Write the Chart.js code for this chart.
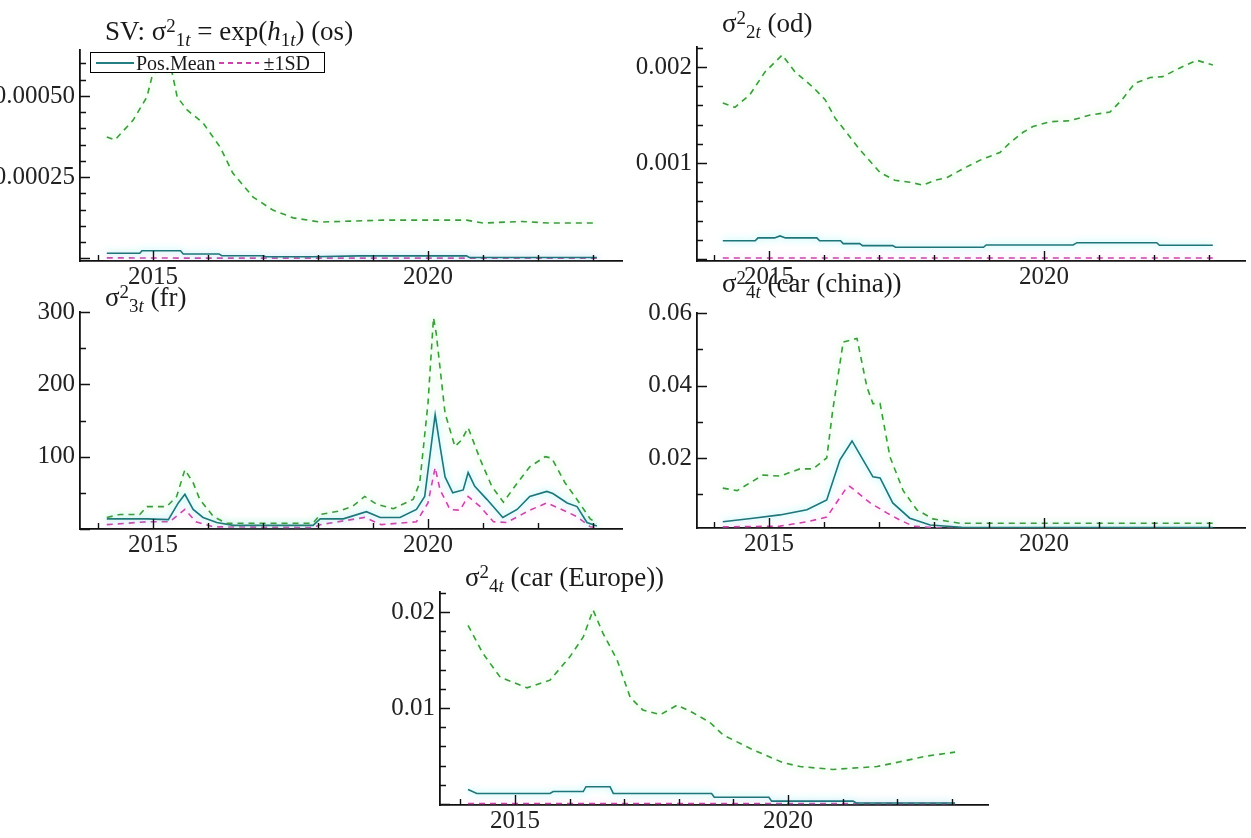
<!DOCTYPE html>
<html>
<head>
<meta charset="utf-8">
<script src="https://cdn.jsdelivr.net/npm/chart.js@4.4.1/dist/chart.umd.min.js"></script>
<style>
  html, body { margin: 0; padding: 0; background: #fff; overflow: hidden; }
  body { width: 1251px; height: 838px; position: relative; font-family: "Liberation Serif", "Times New Roman", serif; }
  canvas { position: absolute; }
  .ttl { position: absolute; font-size: 27px; line-height: 27px; white-space: nowrap; color: #1a1a1a; z-index: 2; }
  .ttl sup { font-size: 0.7em; vertical-align: 0.45em; line-height: 0; }
  .ttl sub { font-size: 0.7em; vertical-align: -0.3em; line-height: 0; }
  #legend { position: absolute; left: 90px; top: 52px; width: 235px; height: 21px; box-sizing: border-box;
            border: 1.6px solid #000; background: #fff; z-index: 3; font-size: 20px; line-height: 18px;
            display: flex; align-items: center; padding-left: 5px; color: #1a1a1a; }
  #legend svg { flex: none; }
</style>
</head>
<body>
<canvas id="c1"></canvas>
<canvas id="c2"></canvas>
<canvas id="c3"></canvas>
<canvas id="c4"></canvas>
<canvas id="c5"></canvas>

<div class="ttl" style="left:105px;top:18px">SV: σ<sup>2</sup><sub>1<i>t</i></sub> = exp(<i>h</i><sub>1<i>t</i></sub>) (os)</div>
<div class="ttl" style="left:722px;top:10px">σ<sup>2</sup><sub>2<i>t</i></sub> (od)</div>
<div class="ttl" style="left:105px;top:284px">σ<sup>2</sup><sub>3<i>t</i></sub> (fr)</div>
<div class="ttl" style="left:722px;top:270px">σ<sup>2</sup><sub>4<i>t</i></sub> (car (china))</div>
<div class="ttl" style="left:465px;top:564px">σ<sup>2</sup><sub>4<i>t</i></sub> (car (Europe))</div>

<div id="legend">
  <svg width="38" height="6"><line x1="0" y1="3" x2="38" y2="3" stroke="#237f82" stroke-width="2"/></svg>
  <span style="margin:0 4px 0 2px">Pos.Mean</span>
  <svg width="40" height="6"><line x1="0" y1="3" x2="40" y2="3" stroke="#cc44aa" stroke-width="2" stroke-dasharray="5,4"/></svg>
  <span style="margin-left:4px">±1SD</span>
</div>

<script>
// ---- data (x in years) ----
// os
const osUpperYears = [2014.16, 2014.31, 2014.64, 2014.89, 2014.98, 2015.15, 2015.35, 2015.44, 2015.62, 2015.91, 2016.22, 2016.45, 2016.82, 2017.18, 2017.55, 2018.04, 2018.58, 2019.18, 2019.8, 2020.7, 2021.0, 2021.7, 2022.2, 2023.07];
const osUpper = [0.000374, 0.000365, 0.000426, 0.000497, 0.000558, 0.0006, 0.00057, 0.000497, 0.000457, 0.000417, 0.000343, 0.000263, 0.000189, 0.000149, 0.000125, 0.000112, 0.000115, 0.000118, 0.000118, 0.000118, 0.000109, 0.000114, 0.000109, 0.000109];
const osMeanYears = [2014.16, 2014.76, 2014.8, 2015.5, 2015.55, 2016.2, 2016.25, 2017.0, 2017.05, 2017.9, 2018.75, 2020.7, 2020.75, 2023.07];
const osMean = [0.000016, 0.000016, 0.000024, 0.000024, 0.000014, 0.000014, 0.0000086, 0.0000086, 0.0000055, 0.0000055, 0.000008, 0.000008, 0.000003, 0.000003];
const osLowerYears = [2014.16, 2016.0, 2018.0, 2020.0, 2023.07];
const osLower = [0.000002, 0.000001, 0.000001, 0.000001, 0.000001];

// od
const odUpperYears = [2014.16, 2014.38, 2014.65, 2014.93, 2015.24, 2015.47, 2015.8, 2016.02, 2016.2, 2016.42, 2016.65, 2017.02, 2017.29, 2017.56, 2017.8, 2018.02, 2018.24, 2018.56, 2018.84, 2019.2, 2019.38, 2019.62, 2019.8, 2020.11, 2020.47, 2020.84, 2021.2, 2021.42, 2021.65, 2021.93, 2022.16, 2022.47, 2022.78, 2023.07];
const odUpper = [0.001625, 0.00158, 0.00171, 0.00195, 0.002125, 0.00195, 0.00179, 0.00166, 0.00147, 0.00131, 0.00114, 0.0009, 0.00082, 0.0008, 0.00077, 0.00082, 0.00085, 0.00095, 0.00103, 0.00111, 0.00121, 0.00132, 0.00138, 0.00143, 0.00144, 0.0015, 0.00153, 0.00166, 0.00183, 0.00189, 0.0019, 0.00199, 0.00207, 0.00202];
const odMeanYears = [2014.16, 2014.75, 2014.8, 2015.1, 2015.2, 2015.3, 2015.87, 2015.92, 2016.3, 2016.35, 2016.65, 2016.7, 2017.25, 2017.3, 2018.9, 2018.95, 2020.53, 2020.6, 2022.05, 2022.1, 2023.07];
const odMean = [0.00019, 0.00019, 0.00022, 0.00022, 0.00024, 0.00022, 0.00022, 0.00019, 0.00019, 0.00016, 0.00016, 0.000139, 0.000139, 0.000122, 0.000122, 0.000146, 0.000146, 0.00017, 0.00017, 0.000143, 0.000143];
const odLowerYears = [2014.16, 2016.0, 2018.0, 2020.0, 2022.0, 2023.07];
const odLower = [0.00001, 0.00001, 0.00001, 0.00001, 0.00001, 0.00001];

// fr
const frUpperYears = [2014.16, 2014.4, 2014.76, 2014.89, 2015.25, 2015.43, 2015.58, 2015.73, 2015.85, 2016.1, 2016.34, 2017.07, 2017.91, 2018.04, 2018.4, 2018.64, 2018.85, 2019.07, 2019.37, 2019.73, 2019.85, 2020.0, 2020.1, 2020.15, 2020.31, 2020.49, 2020.61, 2020.73, 2020.95, 2021.16, 2021.37, 2021.58, 2021.85, 2022.13, 2022.25, 2022.49, 2022.67, 2022.95, 2023.07];
const frUpper = [16, 20, 20, 31, 31, 45, 82, 64, 41, 17, 8, 8, 8, 20, 25, 32, 45, 34, 28, 41, 64, 174, 292, 270, 160, 114, 123, 140, 96, 59, 37, 59, 86, 100, 98, 64, 45, 14, 8];
const frMeanYears = [2014.16, 2014.89, 2015.28, 2015.46, 2015.58, 2015.73, 2015.91, 2016.16, 2016.46, 2017.91, 2018.04, 2018.46, 2018.88, 2019.13, 2019.49, 2019.79, 2019.94, 2020.13, 2020.22, 2020.31, 2020.45, 2020.64, 2020.73, 2020.85, 2021.07, 2021.36, 2021.62, 2021.85, 2022.16, 2022.27, 2022.53, 2022.71, 2022.89, 2023.07];
const frMean = [14, 14, 13, 36, 48, 27, 16, 9, 5, 5, 14, 14, 24, 16, 16, 27, 45, 158, 114, 72, 50, 54, 78, 59, 41, 16, 27, 45, 52, 49, 36, 31, 9, 4];
const frLowerYears = [2014.16, 2014.89, 2015.3, 2015.58, 2015.78, 2016.1, 2017.91, 2018.04, 2018.85, 2019.15, 2019.79, 2020.0, 2020.13, 2020.22, 2020.4, 2020.58, 2020.73, 2020.95, 2021.19, 2021.43, 2021.85, 2022.16, 2022.46, 2022.71, 2022.95, 2023.07];
const frLower = [6, 10, 10, 27, 10, 3, 2, 6, 16, 6, 10, 36, 85, 54, 27, 26, 45, 31, 10, 9, 26, 36, 26, 17, 3, 2];

// car (china)
const cnUpperYears = [2014.16, 2014.42, 2014.89, 2015.2, 2015.56, 2015.8, 2016.05, 2016.16, 2016.35, 2016.6, 2016.78, 2016.89, 2017.02, 2017.2, 2017.44, 2017.69, 2017.98, 2018.47, 2020.0, 2021.5, 2023.07];
const cnUpper = [0.0117, 0.011, 0.0153, 0.015, 0.017, 0.017, 0.02, 0.0333, 0.052, 0.053, 0.0396, 0.035, 0.035, 0.0203, 0.011, 0.0057, 0.0032, 0.002, 0.002, 0.002, 0.002];
const cnMeanYears = [2014.16, 2014.71, 2015.2, 2015.69, 2016.05, 2016.29, 2016.51, 2016.71, 2016.89, 2017.02, 2017.25, 2017.56, 2017.93, 2018.5, 2020.0, 2023.07];
const cnMean = [0.0024, 0.0034, 0.0043, 0.0057, 0.0084, 0.0195, 0.0247, 0.0195, 0.0148, 0.0145, 0.0076, 0.0034, 0.0015, 0.0009, 0.0008, 0.0008];
const cnLowerYears = [2014.16, 2015.2, 2015.69, 2016.05, 2016.42, 2016.47, 2016.84, 2017.15, 2017.38, 2017.62, 2018.2, 2020.0, 2023.07];
const cnLower = [0.001, 0.0012, 0.0024, 0.0037, 0.012, 0.0122, 0.0076, 0.0048, 0.0029, 0.0012, 0.0006, 0.0005, 0.0005];

// car (Europe)
const euUpperYears = [2014.14, 2014.41, 2014.73, 2015.22, 2015.64, 2016.0, 2016.25, 2016.43, 2016.61, 2016.87, 2017.11, 2017.34, 2017.66, 2017.97, 2018.26, 2018.57, 2018.81, 2019.3, 2019.91, 2020.22, 2020.82, 2021.63, 2022.05, 2022.55, 2023.06];
const euUpper = [0.0186, 0.0157, 0.0132, 0.0121, 0.0129, 0.0153, 0.0174, 0.0202, 0.0178, 0.015, 0.0111, 0.0098, 0.0093, 0.0103, 0.0095, 0.0085, 0.0072, 0.0058, 0.0043, 0.0039, 0.0036, 0.0039, 0.0044, 0.005, 0.0054];
const euMeanYears = [2014.14, 2014.3, 2015.64, 2015.7, 2016.25, 2016.3, 2016.74, 2016.8, 2018.6, 2018.65, 2019.65, 2019.7, 2021.19, 2021.25, 2023.06];
const euMean = [0.0015, 0.0011, 0.0011, 0.0013, 0.0013, 0.0018, 0.0018, 0.0011, 0.0011, 0.0007, 0.0007, 0.0003, 0.0003, 0.0001, 0.0001];
const euLowerYears = [2014.14, 2016.0, 2018.0, 2020.0, 2023.06];
const euLower = [0.00005, 0.00005, 0.00005, 0.00005, 0.00005];

const xTickLabels = [2015, 2020];

// ---- layout of the five panels (plot width: 542 left column, 548 others) ----
const panels = [
  { id: 'c1', left: 0, top: 26, w: 632, h: 275, xh: 40, plotW: 542, xMin: 2013.673, xMax: 2023.527, yMin: -0.0000077, yMax: 0.0006415,
    yLabels: [0.00025, 0.0005], digits: 5, minor: 0.00005, every: 5,
    series: [[osUpperYears, osUpper], [osMeanYears, osMean], [osLowerYears, osLower]] },
  { id: 'c2', left: 617, top: 23, w: 634, h: 278, xh: 40, plotW: 548, xMin: 2013.691, xMax: 2023.655, yMin: -0.0000208, yMax: 0.0022083,
    yLabels: [0.001, 0.002], digits: 3, minor: 0.0002, every: 5,
    series: [[odUpperYears, odUpper], [odMeanYears, odMean], [odLowerYears, odLower]] },
  { id: 'c3', left: 0, top: 288, w: 632, h: 281, xh: 40, plotW: 542, xMin: 2013.673, xMax: 2023.527, yMin: 0, yMax: 300,
    yLabels: [100, 200, 300], digits: 0, minor: 50, every: 2,
    series: [[frUpperYears, frUpper], [frMeanYears, frMean], [frLowerYears, frLower]] },
  { id: 'c4', left: 617, top: 289, w: 634, h: 279, xh: 40, plotW: 548, xMin: 2013.691, xMax: 2023.655, yMin: 0.00069, yMax: 0.06,
    yLabels: [0.02, 0.04, 0.06], digits: 2, minor: 0.01, every: 2,
    series: [[cnUpperYears, cnUpper], [cnMeanYears, cnMean], [cnLowerYears, cnLower]] },
  { id: 'c5', left: 360, top: 568, w: 638, h: 270, xh: 33, plotW: 548, xMin: 2013.626, xMax: 2023.663, yMin: -0.000104, yMax: 0.022083,
    yLabels: [0.01, 0.02], digits: 2, minor: 0.002, every: 5,
    series: [[euUpperYears, euUpper], [euMeanYears, euMean], [euLowerYears, euLower]] }
];

const styles = [
  { color: '#3d9b3d', glow: 'rgba(120,235,120,0.75)', dash: [6, 5] },
  { color: '#1f7579', glow: 'rgba(80,235,240,0.75)', dash: [] },
  { color: '#cc44aa', glow: 'rgba(245,140,225,0.75)', dash: [6, 5] }
];

// soft halo around each curve, like the scanned original
const glowPlugin = {
  id: 'glow',
  beforeDatasetDraw(chart, args) {
    const ds = chart.data.datasets[args.index];
    chart.ctx.save();
    chart.ctx.shadowColor = ds.glow;
    chart.ctx.shadowBlur = 7;
  },
  afterDatasetDraw(chart) {
    chart.ctx.restore();
  }
};

// tick marks drawn inward from the axes
const innerTicks = {
  id: 'innerTicks',
  afterDraw(chart, args, opts) {
    const { ctx, chartArea: a, scales: { x, y } } = chart;
    ctx.save();
    ctx.strokeStyle = '#111';
    ctx.lineWidth = 1.4;
    ctx.beginPath();
    for (let yr = Math.ceil(x.min); yr <= x.max; yr++) {
      const px = Math.round(x.getPixelForValue(yr)) + 0.5;
      const len = xTickLabels.includes(yr) ? 10 : 6;
      ctx.moveTo(px, a.bottom);
      ctx.lineTo(px, a.bottom - len);
    }
    const n = Math.round(y.max / opts.minor);
    for (let i = 0; i <= n; i++) {
      const v = i * opts.minor;
      if (v < y.min || v > y.max + 1e-12) continue;
      const py = Math.round(y.getPixelForValue(v)) + 0.5;
      const len = i % opts.every === 0 ? 10 : 6;
      ctx.moveTo(a.left, py);
      ctx.lineTo(a.left + len, py);
    }
    ctx.stroke();
    ctx.restore();
  }
};

const tickFont = { family: '"Liberation Serif", "Times New Roman", serif', size: 25 };

panels.forEach(p => {
  const cv = document.getElementById(p.id);
  cv.width = p.w;
  cv.height = p.h;
  cv.style.left = p.left + 'px';
  cv.style.top = p.top + 'px';
  cv.style.width = p.w + 'px';
  cv.style.height = p.h + 'px';

  const datasets = p.series.map((s, k) => ({
    data: s[0].map((yr, i) => ({ x: yr, y: s[1][i] })),
    borderColor: styles[k].color,
    borderDash: styles[k].dash,
    borderWidth: 1.6,
    glow: styles[k].glow,
    pointRadius: 0,
    tension: 0,
    fill: false
  }));

  new Chart(cv, {
    type: 'line',
    data: { datasets: datasets },
    plugins: [glowPlugin, innerTicks],
    options: {
      responsive: false,
      animation: false,
      devicePixelRatio: 1,
      events: [],
      layout: { padding: { top: 24, right: p.w - 80 - p.plotW, left: 0, bottom: 0 } },
      plugins: {
        legend: { display: false },
        tooltip: { enabled: false },
        innerTicks: { minor: p.minor, every: p.every }
      },
      scales: {
        x: {
          type: 'linear', min: p.xMin, max: p.xMax,
          afterFit: s => { s.height = p.xh; },
          afterBuildTicks: s => { s.ticks = xTickLabels.map(v => ({ value: v })); },
          grid: { display: false, drawTicks: false },
          border: { display: true, color: '#111', width: 1.8 },
          ticks: { color: '#222', font: tickFont, padding: 1, autoSkip: false, maxRotation: 0,
                   callback: v => String(v) }
        },
        y: {
          type: 'linear', min: p.yMin, max: p.yMax,
          afterFit: s => { s.width = 80; },
          afterBuildTicks: s => { s.ticks = p.yLabels.map(v => ({ value: v })); },
          grid: { display: false, drawTicks: false },
          border: { display: true, color: '#111', width: 1.8 },
          ticks: { color: '#222', font: tickFont, padding: 5, autoSkip: false,
                   callback: v => v.toFixed(p.digits) }
        }
      }
    }
  });
});
</script>
</body>
</html>
